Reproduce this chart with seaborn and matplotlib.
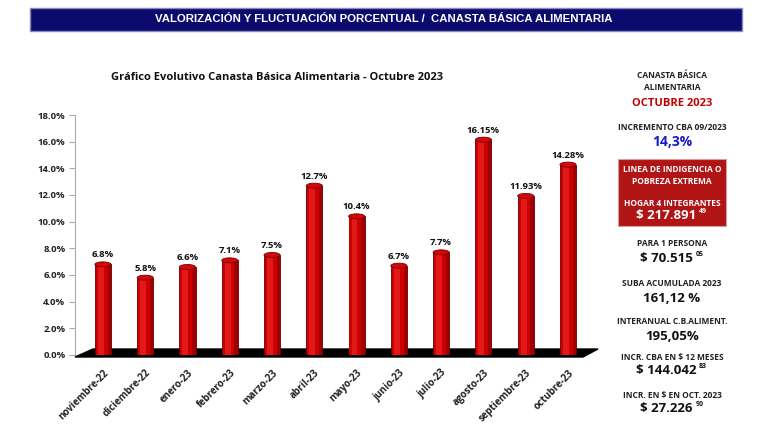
import matplotlib
matplotlib.use("Agg")
import matplotlib.pyplot as plt
from matplotlib.patches import Rectangle, Polygon, Ellipse
import numpy as np
import pandas as pd
import seaborn as sns

# data
months = ['noviembre-22', 'diciembre-22', 'enero-23', 'febrero-23', 'marzo-23', 'abril-23',
          'mayo-23', 'junio-23', 'julio-23', 'agosto-23', 'septiembre-23', 'octubre-23']
pct = [6.8, 5.8, 6.6, 7.1, 7.5, 12.7, 10.4, 6.7, 7.7, 16.15, 11.93, 14.28]
pct_labels = ['6.8%', '5.8%', '6.6%', '7.1%', '7.5%', '12.7%', '10.4%', '6.7%', '7.7%',
              '16.15%', '11.93%', '14.28%']
y_ticks = [0, 2, 4, 6, 8, 10, 12, 14, 16, 18]

banner = 'VALORIZACIÓN Y FLUCTUACIÓN PORCENTUAL /  CANASTA BÁSICA ALIMENTARIA'
chart_title = 'Gráfico Evolutivo Canasta Básica Alimentaria - Octubre 2023'

# right side panel: (label, value, superscript)
side_items = [
    ('PARA 1 PERSONA', '$ 70.515', '05'),
    ('SUBA ACUMULADA 2023', '161,12 %', ''),
    ('INTERANUAL C.B.ALIMENT.', '195,05%', ''),
    ('INCR. CBA EN $ 12 MESES', '$ 144.042', '83'),
    ('INCR. EN $ EN OCT. 2023', '$ 27.226', '90'),
]

df = pd.DataFrame({'mes': months, 'pct': pct})

sns.set_style('white')
plt.rcParams['font.family'] = ['Open Sans', 'DejaVu Sans']

W, H = 767, 425
fig = plt.figure(figsize=(W / 100, H / 100), dpi=100)


def fx(px):
    return px / W


def fy(py):
    return 1 - py / H


# banner
fig.patches.append(Rectangle((fx(30), fy(31)), fx(742) - fx(30), fy(8) - fy(31),
                             transform=fig.transFigure, facecolor='#0b0b6e',
                             edgecolor='#8888bb', linewidth=1.0))
fig.text(fx(384), fy(19.5), banner, color='white', fontsize=8.2, fontweight='heavy',
         family=['Liberation Sans', 'DejaVu Sans'],
         ha='center', va='center')

fig.text(fx(277), fy(77), chart_title, fontsize=8, fontweight='bold', color='#111111',
         ha='center', va='center')

# axes: 0% at y=355px, 18% at y=115px
ax = fig.add_axes([fx(75), fy(355), fx(590) - fx(75), (355 - 115) / H])
x0, x1 = -0.66, 11.52

idx = np.arange(len(months))
ppx = (x1 - x0) / (590 - 75)  # data units per pixel in x
ppy = 18 / 240

# cylinder-like bars
sns.barplot(data=df, x='mes', y='pct', color='#a00000', width=0.38, saturation=1,
            edgecolor='#6a0000', linewidth=0.6, ax=ax, zorder=2)
ax.bar(idx - 0.03, pct, width=0.28, color='#cc0000', zorder=3, linewidth=0)
ax.bar(idx - 0.05, pct, width=0.14, color='#e31818', zorder=4, linewidth=0)
for i, v in zip(idx, pct):
    ax.add_patch(Ellipse((i, v), 0.38, 5 * ppy, facecolor='#d40808',
                         edgecolor='#7a0000', linewidth=0.6, zorder=5))
ax.set_xlim(x0, x1)
ax.set_ylim(0, 18)

# floor
floor = Polygon([(x0, -2 * ppy), (x0 + 18 * ppx, 6 * ppy), (x1 + 8 * ppx, 6 * ppy),
                 (x1 - 7 * ppx, -2 * ppy)], closed=True, facecolor='black',
                edgecolor='black', clip_on=False, zorder=1)
ax.add_patch(floor)

for i, (v, lab) in enumerate(zip(pct, pct_labels)):
    ax.annotate(lab, (i, v), xytext=(0, 3.5), textcoords='offset points',
                ha='center', va='bottom', fontsize=6.8, fontweight='bold', color='#111111')

ax.set_xlabel('')
ax.set_ylabel('')
ax.set_yticks(y_ticks)
ax.set_yticklabels([f'{t:.1f}%' for t in y_ticks], fontsize=6.8, fontweight='bold',
                   color='#222222')
ax.set_xticks(idx)
ax.set_xticklabels(months, rotation=45, ha='right', rotation_mode='anchor',
                   fontsize=7, fontweight='bold', color='#222222')
ax.tick_params(axis='x', length=0, pad=9)
ax.set_xticks(idx + 0.33, minor=True)
ax.tick_params(axis='x', which='minor', length=4, color='#999999', width=0.6)
ax.tick_params(axis='y', length=4, color='#999999', width=0.6, pad=3, left=True)
for s in ['top', 'right', 'bottom']:
    ax.spines[s].set_visible(False)
ax.spines['left'].set_color('#aaaaaa')
ax.spines['left'].set_linewidth(0.8)

# right panel
cx = 672
small = dict(fontsize=6, fontweight='bold', color='#222222', ha='center', va='center')
big = dict(fontsize=9.5, fontweight='bold', color='#111111', ha='center', va='center')
fig.text(fx(cx), fy(76), 'CANASTA BÁSICA', **small)
fig.text(fx(cx), fy(87), 'ALIMENTARIA', **small)
fig.text(fx(cx), fy(103), 'OCTUBRE 2023', fontsize=8, fontweight='bold',
         color='#c00000', ha='center', va='center')
fig.text(fx(cx), fy(127), 'INCREMENTO CBA 09/2023', **small)
fig.text(fx(cx), fy(142), '14,3%', fontsize=10, fontweight='bold', color='#1a1ad0',
         ha='center', va='center')

fig.patches.append(Rectangle((fx(618), fy(226)), fx(726) - fx(618), fy(159) - fy(226),
                             transform=fig.transFigure, facecolor='#b01414',
                             edgecolor='#d0a0a0', linewidth=0.8))
fig.text(fx(cx), fy(170), 'LINEA DE INDIGENCIA O', **{**small, 'color': 'white'})
fig.text(fx(cx), fy(182), 'POBREZA EXTREMA', **{**small, 'color': 'white'})
fig.text(fx(cx), fy(203), 'HOGAR 4 INTEGRANTES', **{**small, 'color': 'white'})
fig.text(fx(cx - 6), fy(216), '$ 217.891', **{**big, 'color': 'white'})
fig.text(fx(cx + 27), fy(212), '49', fontsize=5, fontweight='bold', color='white',
         ha='left', va='center')

y_pos = [244, 284, 322, 357, 395]
for (lab, val, sup), yp in zip(side_items, y_pos):
    fig.text(fx(cx), fy(yp), lab, **small)
    if sup:
        fig.text(fx(cx - 6), fy(yp + 14), val, **big)
        fig.text(fx(cx - 6) + 0.003 + len(val) * 0.0044, fy(yp + 10), sup, fontsize=5,
                 fontweight='bold', color='#111111', ha='left', va='center')
    else:
        fig.text(fx(cx), fy(yp + 14), val, **big)

fig.savefig('out.png', dpi=100)
